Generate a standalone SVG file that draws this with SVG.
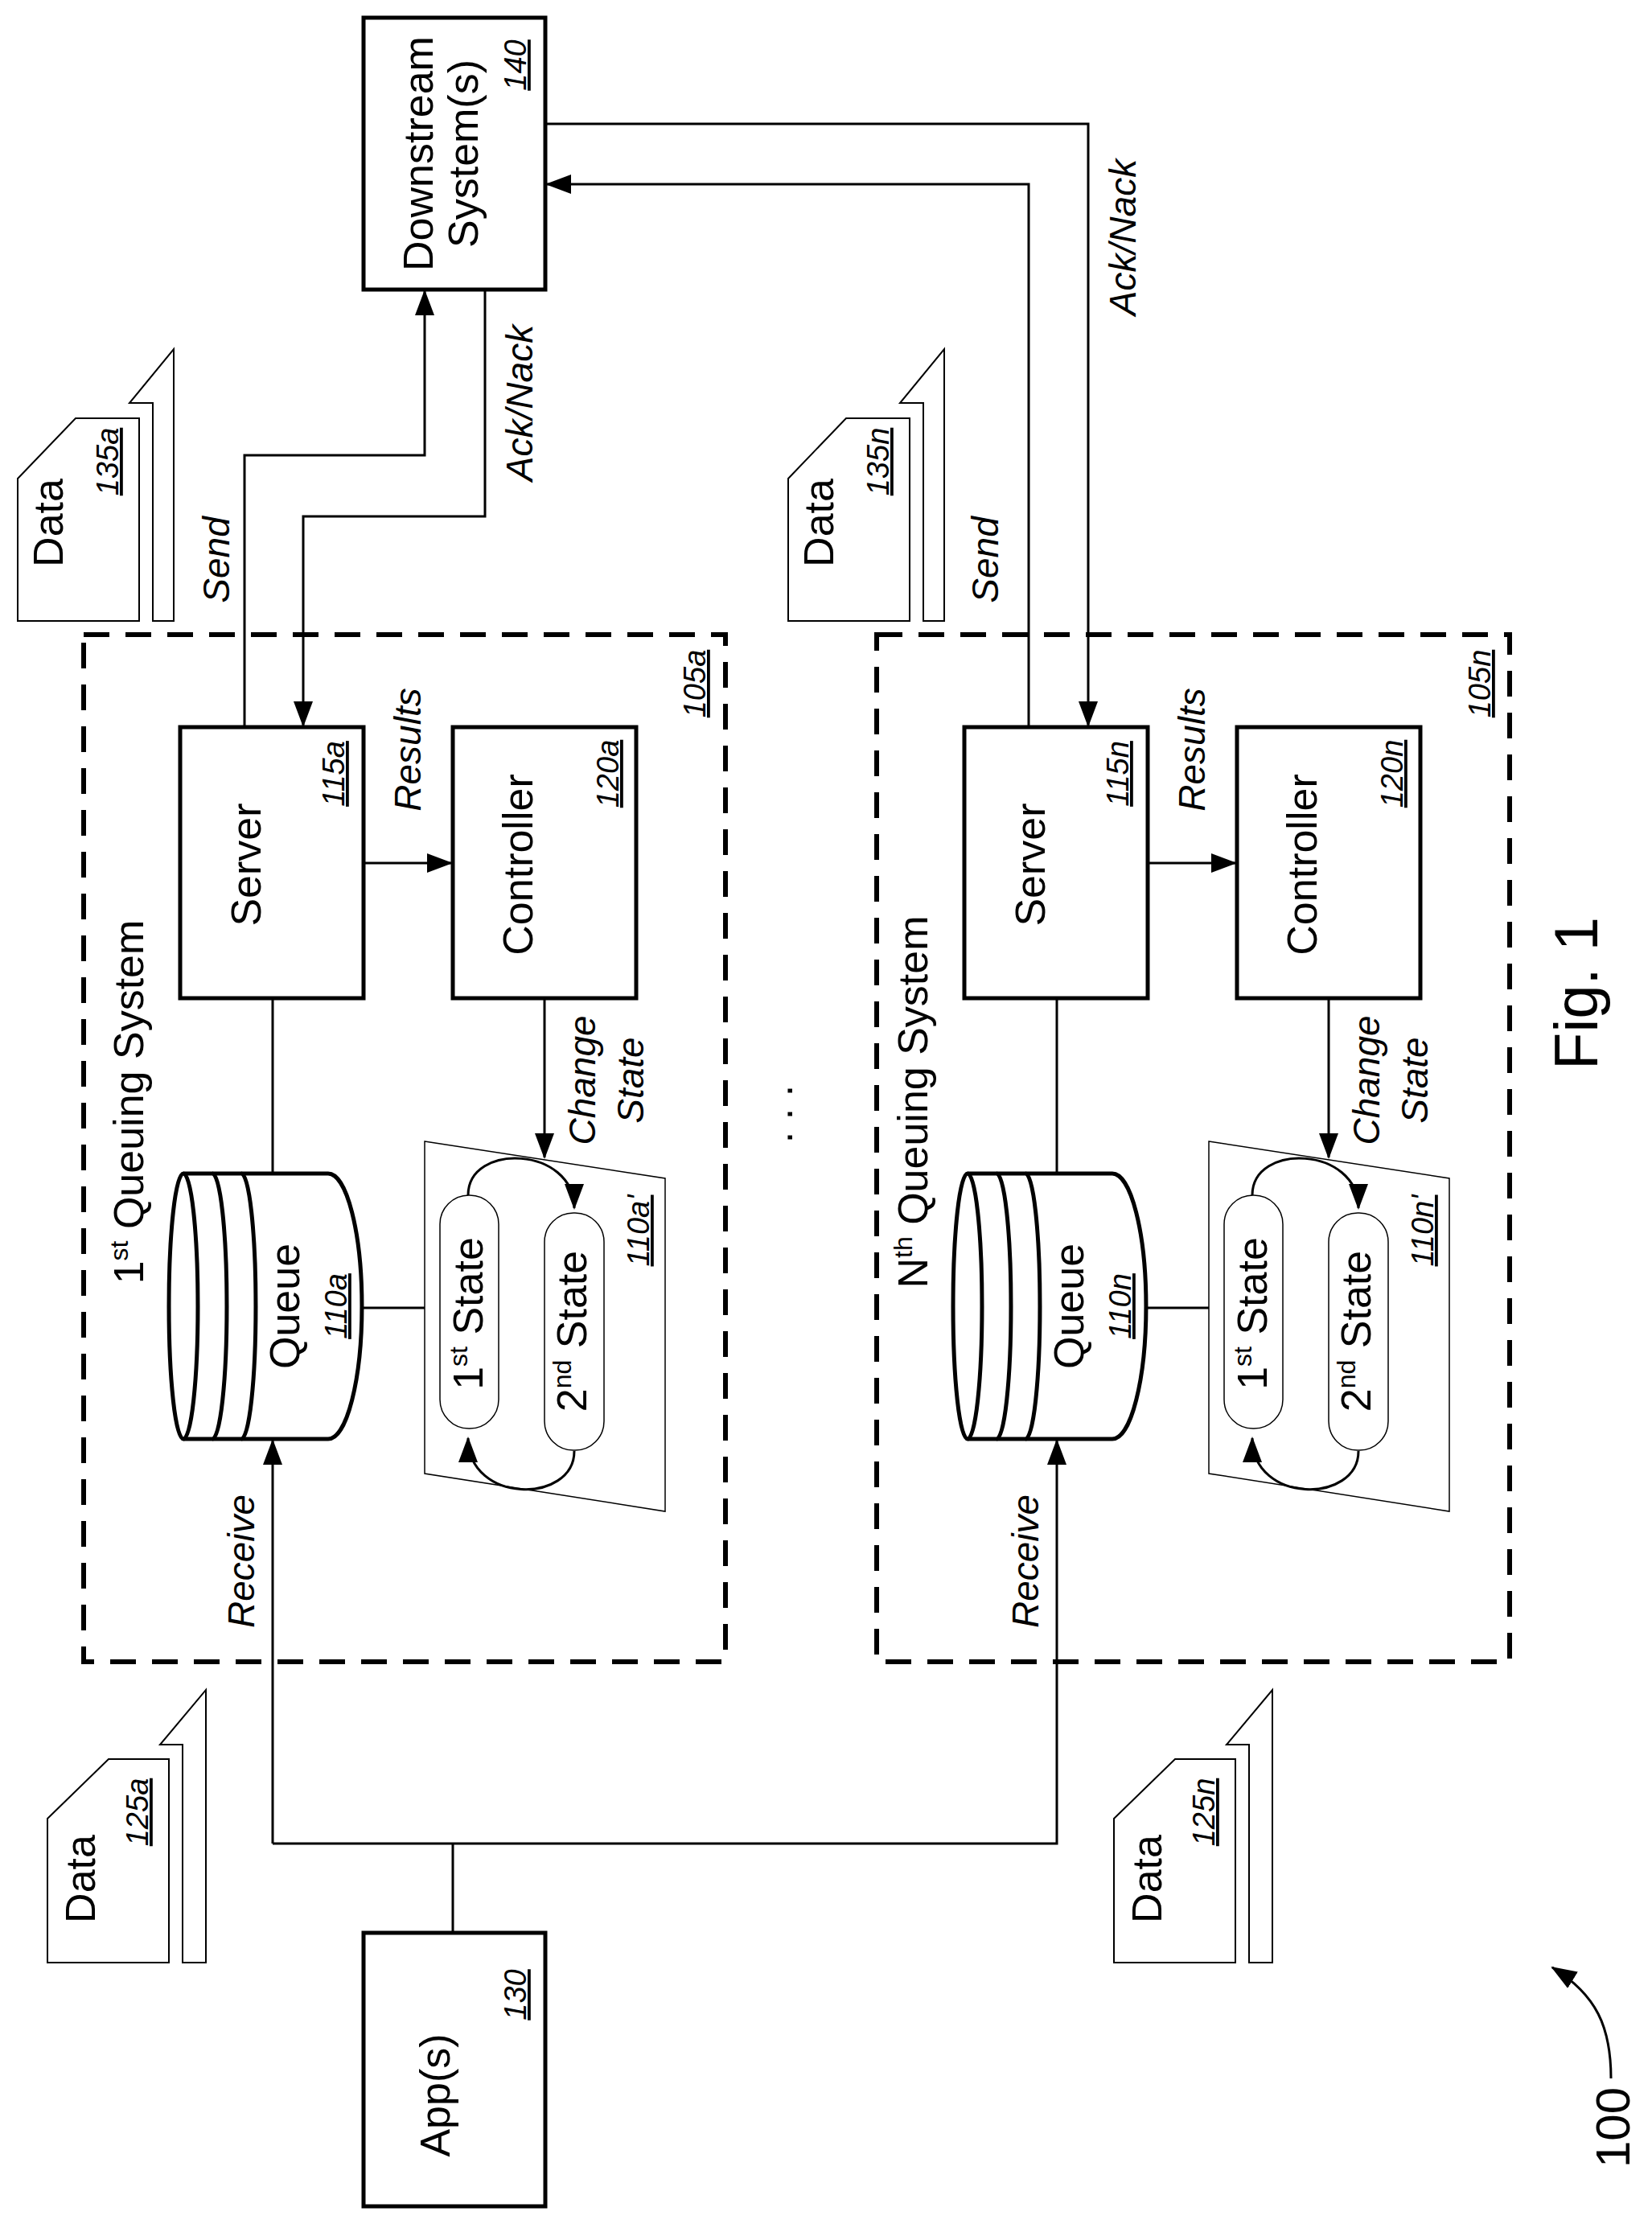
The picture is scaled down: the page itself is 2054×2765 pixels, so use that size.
<svg xmlns="http://www.w3.org/2000/svg" width="2054" height="2765" viewBox="0 0 2054 2765">
<style>
text{font-family:"Liberation Sans",Arial,sans-serif;fill:#000}
.b{font-size:52px}
.r{font-size:38px;font-style:italic;text-decoration:underline}
.i{font-size:46px;font-style:italic}
.box{fill:#fff;stroke:#000;stroke-width:5}
.ln{fill:none;stroke:#000;stroke-width:3}
.dash{fill:none;stroke:#000;stroke-width:6;stroke-dasharray:32 20}
.thin{fill:#fff;stroke:#000;stroke-width:1.5}
.doc{fill:#fff;stroke:#000;stroke-width:2}
</style>
<defs>
<marker id="ah" markerUnits="userSpaceOnUse" markerWidth="32" markerHeight="24" refX="30" refY="12" orient="auto"><path d="M0,0 L32,12 L0,24 Z" fill="#000"/></marker>
<g id="sys">
<rect class="box" x="224" y="904" width="228" height="337"/>
<rect class="box" x="563" y="904" width="228" height="337"/>
<line class="ln" x1="452" y1="1073" x2="561" y2="1073" marker-end="url(#ah)"/>
<line class="ln" x1="339" y1="1241" x2="339" y2="1459"/>
<line class="ln" x1="677" y1="1241" x2="677" y2="1439" marker-end="url(#ah)"/>
<line class="ln" x1="450" y1="1626" x2="528" y2="1626"/>
<path class="box" d="M228,1459 L408,1459 A42,165 0 0 1 408,1789 L228,1789 A18,165 0 0 1 228,1459 Z"/>
<path class="ln" style="stroke-width:5" d="M228,1459 A18,165 0 0 1 228,1789 M264,1459 A18,165 0 0 1 264,1789 M300,1459 A18,165 0 0 1 300,1789"/>
<polygon class="thin" points="528,1419 827,1465 827,1879 528,1832"/>
<rect class="thin" x="547" y="1486" width="73" height="290" rx="36"/>
<rect class="thin" x="677" y="1508" width="74" height="295" rx="36"/>
<path class="ln" d="M582,1486 C582,1420 714,1425 714,1502" marker-end="url(#ah)"/>
<path class="ln" d="M714,1804 C714,1870 582,1870 582,1788" marker-end="url(#ah)"/>
<text class="b" text-anchor="middle" transform="translate(324,1075) rotate(-90)">Server</text>
<text class="b" text-anchor="middle" transform="translate(662,1075) rotate(-90)">Controller</text>
<text class="i" text-anchor="middle" transform="translate(523,932) rotate(-90)">Results</text>
<text class="i" text-anchor="middle" transform="translate(740,1343) rotate(-90)">Change</text>
<text class="i" text-anchor="middle" transform="translate(800,1343) rotate(-90)">State</text>
<text class="b" text-anchor="middle" transform="translate(372,1624) rotate(-90)">Queue</text>
<text class="b" text-anchor="middle" transform="translate(600,1633) rotate(-90)">1<tspan font-size="32" dy="-19">st</tspan><tspan dy="19"> State</tspan></text>
<text class="b" text-anchor="middle" transform="translate(729,1655) rotate(-90)">2<tspan font-size="32" dy="-19">nd</tspan><tspan dy="19"> State</tspan></text>
<text class="i" text-anchor="middle" transform="translate(316,1941) rotate(-90)">Receive</text>
</g>
</defs>
<rect width="2054" height="2765" fill="#fff"/>
<g id="connectors">
<polyline class="ln" points="304,904 304,566 528,566 528,362" marker-end="url(#ah)"/>
<polyline class="ln" points="603,360 603,642 377,642 377,902" marker-end="url(#ah)"/>
<polyline class="ln" points="1279,904 1279,229 680,229" marker-end="url(#ah)"/>
<polyline class="ln" points="678,154 1353,154 1353,902" marker-end="url(#ah)"/>
<line class="ln" x1="563" y1="2403" x2="563" y2="2292"/>
<polyline class="ln" points="339,2292 339,1791" marker-end="url(#ah)"/>
<polyline class="ln" points="339,2292 1314,2292 1314,1791" marker-end="url(#ah)"/>
<path class="ln" d="M2003,2584 C2003,2520 1985,2480 1930,2446" marker-end="url(#ah)"/>
</g>
<g id="system-105a">
<rect class="dash" x="104" y="789" width="798" height="1277"/>
<use href="#sys"/>
<text class="b" text-anchor="middle" transform="translate(178,1370) rotate(-90)">1<tspan font-size="32" dy="-19">st</tspan><tspan dy="19"> Queuing System</tspan></text>
<text class="r" text-anchor="middle" transform="translate(428,962) rotate(-90)">115a</text>
<text class="r" text-anchor="middle" transform="translate(769,962) rotate(-90)">120a</text>
<text class="r" text-anchor="middle" transform="translate(431,1624) rotate(-90)">110a</text>
<text class="r" text-anchor="middle" transform="translate(807,1530) rotate(-90)">110a'</text>
<text class="r" text-anchor="middle" transform="translate(877,850) rotate(-90)">105a</text>
</g>
<g id="system-105n">
<rect class="dash" x="1090" y="789" width="787" height="1277"/>
<use href="#sys" x="975"/>
<text class="b" text-anchor="middle" transform="translate(1153,1370) rotate(-90)">N<tspan font-size="32" dy="-19">th</tspan><tspan dy="19"> Queuing System</tspan></text>
<text class="r" text-anchor="middle" transform="translate(1403,962) rotate(-90)">115n</text>
<text class="r" text-anchor="middle" transform="translate(1744,962) rotate(-90)">120n</text>
<text class="r" text-anchor="middle" transform="translate(1406,1624) rotate(-90)">110n</text>
<text class="r" text-anchor="middle" transform="translate(1782,1530) rotate(-90)">110n'</text>
<text class="r" text-anchor="middle" transform="translate(1853,850) rotate(-90)">105n</text>
</g>
<g id="downstream-140">
<rect class="box" x="452" y="22" width="226" height="338"/>
<text class="b" text-anchor="middle" transform="translate(538,191) rotate(-90)">Downstream</text>
<text class="b" text-anchor="middle" transform="translate(594,191) rotate(-90)">System(s)</text>
<text class="r" text-anchor="middle" transform="translate(654,81) rotate(-90)">140</text>
</g>
<g id="apps-130">
<rect class="box" x="452" y="2403" width="226" height="340"/>
<text class="b" text-anchor="middle" transform="translate(559,2605) rotate(-90)">App(s)</text>
<text class="r" text-anchor="middle" transform="translate(654,2480) rotate(-90)">130</text>
</g>
<g id="labels">
<text class="i" text-anchor="middle" transform="translate(285,696) rotate(-90)">Send</text>
<text class="i" text-anchor="middle" transform="translate(1241,696) rotate(-90)">Send</text>
<text class="i" text-anchor="middle" transform="translate(662,501) rotate(-90)">Ack/Nack</text>
<text class="i" text-anchor="middle" transform="translate(1412,295) rotate(-90)">Ack/Nack</text>
<text class="b" text-anchor="middle" transform="translate(985,1385) rotate(-90)">. . .</text>
<text font-size="76" text-anchor="middle" transform="translate(1986,1235) rotate(-90)">Fig. 1</text>
<text font-size="60" text-anchor="middle" transform="translate(2026,2645) rotate(-90)">100</text>
</g>
<g id="data-135a">
<path class="doc" d="M22,595 L94,520 L173,520 L173,772 L22,772 Z"/>
<polygon class="doc" points="190,772 216,772 216,434 161,501 190,501"/>
<text class="b" text-anchor="middle" transform="translate(78,650) rotate(-90)">Data</text>
<text class="r" text-anchor="middle" transform="translate(147,574) rotate(-90)">135a</text>
</g>
<g id="data-135n">
<path class="doc" d="M980,595 L1052,520 L1131,520 L1131,772 L980,772 Z"/>
<polygon class="doc" points="1148,772 1174,772 1174,434 1119,501 1148,501"/>
<text class="b" text-anchor="middle" transform="translate(1036,650) rotate(-90)">Data</text>
<text class="r" text-anchor="middle" transform="translate(1105,574) rotate(-90)">135n</text>
</g>
<g id="data-125a">
<path class="doc" d="M59,2261 L135,2187 L210,2187 L210,2440 L59,2440 Z"/>
<polygon class="doc" points="227,2440 256,2440 256,2101 199,2169 227,2169"/>
<text class="b" text-anchor="middle" transform="translate(118,2336) rotate(-90)">Data</text>
<text class="r" text-anchor="middle" transform="translate(184,2253) rotate(-90)">125a</text>
</g>
<g id="data-125n">
<path class="doc" d="M1385,2261 L1461,2187 L1536,2187 L1536,2440 L1385,2440 Z"/>
<polygon class="doc" points="1553,2440 1582,2440 1582,2101 1525,2169 1553,2169"/>
<text class="b" text-anchor="middle" transform="translate(1444,2336) rotate(-90)">Data</text>
<text class="r" text-anchor="middle" transform="translate(1510,2253) rotate(-90)">125n</text>
</g>
</svg>
